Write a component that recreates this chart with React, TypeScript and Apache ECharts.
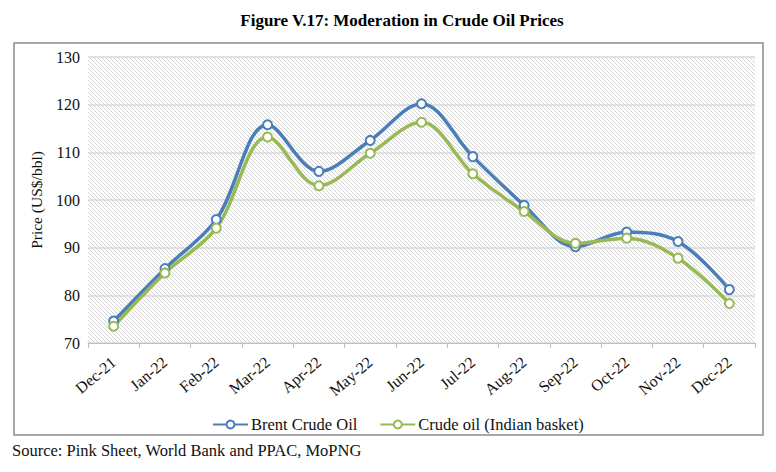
import React, { useEffect, useRef } from "react";
import * as echarts from "echarts";

const categories = ["Dec-21", "Jan-22", "Feb-22", "Mar-22", "Apr-22", "May-22", "Jun-22", "Jul-22", "Aug-22", "Sep-22", "Oct-22", "Nov-22", "Dec-22"];
const brent = [74.6, 85.6, 95.9, 115.8, 106.0, 112.5, 120.2, 109.1, 98.9, 90.2, 93.3, 91.3, 81.2];
const indianBasket = [73.5, 84.7, 94.1, 113.2, 103.0, 109.8, 116.3, 105.5, 97.6, 90.9, 92.0, 87.8, 78.3];
const yTicks = { min: 70, max: 130, interval: 10 };

const SERIF = "'Liberation Serif', 'Times New Roman', serif";
const BLUE = "#4A7EBB";
const GREEN = "#98B954";

function makeHatch(): string {
  const s = 4;
  const c = document.createElement("canvas");
  c.width = s;
  c.height = s;
  const ctx = c.getContext("2d")!;
  ctx.fillStyle = "#ffffff";
  ctx.fillRect(0, 0, s, s);
  ctx.strokeStyle = "#d4d4d4";
  ctx.lineWidth = 1;
  for (const off of [-s, 0, s]) {
    ctx.beginPath();
    ctx.moveTo(off - 1, -1);
    ctx.lineTo(off + s + 1, s + 1);
    ctx.stroke();
  }
  return c.toDataURL();
}

export default function App() {
  const ref = useRef<HTMLDivElement>(null);
  useEffect(() => {
    if (!ref.current) return;
    const chart = echarts.init(ref.current, undefined, { renderer: "svg" });
    const hatch = makeHatch();
    const mkSeries = (name: string, data: number[], color: string) => ({
      name,
      type: "line",
      data,
      smooth: 0.35,
      symbol: "circle",
      symbolSize: 9,
      showAllSymbol: true,
      lineStyle: { color, width: 3.5 },
      itemStyle: { color: "#ffffff", borderColor: color, borderWidth: 2 },
      emphasis: { disabled: true },
    });
    chart.setOption({
      animation: false,
      backgroundColor: "#ffffff",
      grid: {
        left: 88,
        right: 21,
        top: 57,
        bottom: 129,
        show: true,
        borderWidth: 0,
        backgroundColor: { image: hatch, repeat: "repeat" } as any,
      },
      legend: {
        top: 411,
        left: 207,
        itemWidth: 35,
        itemHeight: 10,
        itemGap: 22,
        data: ["Brent Crude Oil", "Crude oil (Indian basket)"],
        textStyle: { fontFamily: SERIF, fontSize: 16.5, color: "#111", padding: [0, 0, 0, -2] },
      },
      xAxis: {
        type: "category",
        data: categories,
        boundaryGap: true,
        axisLine: { lineStyle: { color: "#bfbfbf", width: 1 } },
        axisTick: { show: true, length: 5, lineStyle: { color: "#bfbfbf" } },
        axisLabel: {
          rotate: 40,
          fontFamily: SERIF,
          fontSize: 16,
          color: "#111",
          margin: 17,
          interval: 0,
        },
      },
      yAxis: {
        type: "value",
        min: yTicks.min,
        max: yTicks.max,
        interval: yTicks.interval,
        name: "Price (US$/bbl)",
        nameLocation: "middle",
        nameGap: 44,
        nameTextStyle: { fontFamily: SERIF, fontSize: 15.5, color: "#111" },
        axisLine: { show: false },
        axisTick: { show: false },
        axisLabel: { fontFamily: SERIF, fontSize: 16, color: "#111", margin: 8 },
        splitLine: { lineStyle: { color: "#d9d9d9", width: 1.5 } },
      },
      graphic: [
        {
          type: "rect",
          shape: { x: 14, y: 43, width: 749, height: 392 },
          style: { fill: "none", stroke: "#8c8c8c", lineWidth: 1.5 },
          silent: true,
          z: -1,
        },
        {
          type: "text",
          x: 402,
          y: 20,
          style: {
            text: "Figure V.17: Moderation in Crude Oil Prices",
            fontFamily: SERIF,
            fontSize: 17,
            fontWeight: "bold",
            fill: "#000",
            textAlign: "center",
            textVerticalAlign: "middle",
          },
        },
        {
          type: "text",
          x: 12,
          y: 450,
          style: {
            text: "Source: Pink Sheet, World Bank and PPAC, MoPNG",
            fontFamily: SERIF,
            fontSize: 16.5,
            fill: "#111",
            textAlign: "left",
            textVerticalAlign: "middle",
          },
        },
      ],
      series: [mkSeries("Brent Crude Oil", brent, BLUE), mkSeries("Crude oil (Indian basket)", indianBasket, GREEN)],
    });
    return () => chart.dispose();
  }, []);
  return <div ref={ref} style={{ position: "fixed", left: 0, top: 0, width: 776, height: 472 }} />;
}
